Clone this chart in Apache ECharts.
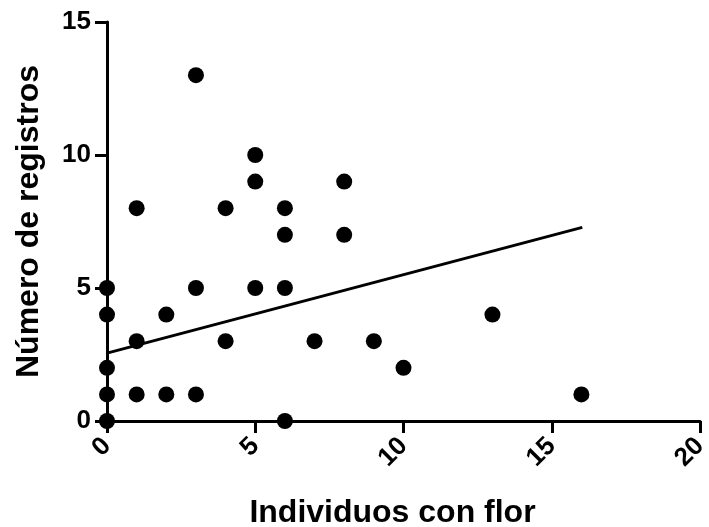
<!DOCTYPE html>
<html>
<head>
<meta charset="utf-8">
<script src="https://cdn.jsdelivr.net/npm/echarts@6/dist/echarts.min.js"></script>
<style>
html,body{margin:0;padding:0;background:#fff;}
#chart{width:709px;height:527px;}
</style>
</head>
<body>
<div id="chart"></div>
<script>
// Data
var pointsX = [0,0,0,0,0, 1,1,1, 2,2, 3,3,3, 4,4, 5,5,5, 6,6,6,6, 7, 8,8, 9, 10, 13, 16];
var pointsY = [0,1,2,4,5, 1,3,8, 1,4, 1,5,13, 3,8, 5,9,10, 0,5,7,8, 3, 7,9, 3, 2, 4, 1];
var lineX = [0, 16.03];
var lineY = [2.55, 7.28];
var xTicks = [0, 5, 10, 15, 20];
var yTicks = [0, 5, 10, 15];
var xTitle = 'Individuos con flor';
var yTitle = 'Número de registros';

var scatterData = pointsX.map(function (x, i) { return [x, pointsY[i]]; });
var lineData = lineX.map(function (x, i) { return [x, lineY[i]]; });

var font = '"Liberation Sans", Arial, sans-serif';
var chart = echarts.init(document.getElementById('chart'), null, {renderer: 'canvas'});
var nameStyle = {fontFamily: font, fontWeight: 'bold', fontSize: 32, color: '#000'};
chart.setOption({
  animation: false,
  backgroundColor: '#fff',
  grid: {left: 107, right: 9, top: 22, bottom: 106, containLabel: false, outerBoundsMode: 'none'},
  xAxis: {
    type: 'value',
    min: xTicks[0], max: xTicks[xTicks.length - 1], interval: xTicks[1] - xTicks[0],
    name: xTitle, nameLocation: 'middle', nameGap: 76,
    nameTextStyle: Object.assign({}, nameStyle, {padding: [0, 22, 0, 0]}),
    axisLine: {show: true, lineStyle: {color: '#000', width: 3}},
    axisTick: {show: true, length: 12, lineStyle: {color: '#000', width: 3}},
    splitLine: {show: false},
    axisLabel: {show: true, rotate: 45, margin: 21, fontFamily: font, fontWeight: 'bold', fontSize: 26, color: '#000'}
  },
  yAxis: {
    type: 'value',
    min: yTicks[0], max: yTicks[yTicks.length - 1], interval: yTicks[1] - yTicks[0],
    name: yTitle, nameLocation: 'middle', nameGap: 62,
    nameTextStyle: nameStyle,
    axisLine: {show: true, lineStyle: {color: '#000', width: 3}},
    axisTick: {show: true, length: 12, lineStyle: {color: '#000', width: 3}},
    splitLine: {show: false},
    axisLabel: {show: true, margin: 16, fontFamily: font, fontWeight: 'bold', fontSize: 26, color: '#000'}
  },
  series: [
    {
      type: 'line', data: lineData, symbol: 'none', clip: false, z: 3,
      lineStyle: {color: '#000', width: 3}
    },
    {
      type: 'scatter', data: scatterData, symbol: 'circle', symbolSize: 16, clip: false, z: 4,
      itemStyle: {color: '#000', opacity: 1}
    }
  ]
});
</script>
</body>
</html>
